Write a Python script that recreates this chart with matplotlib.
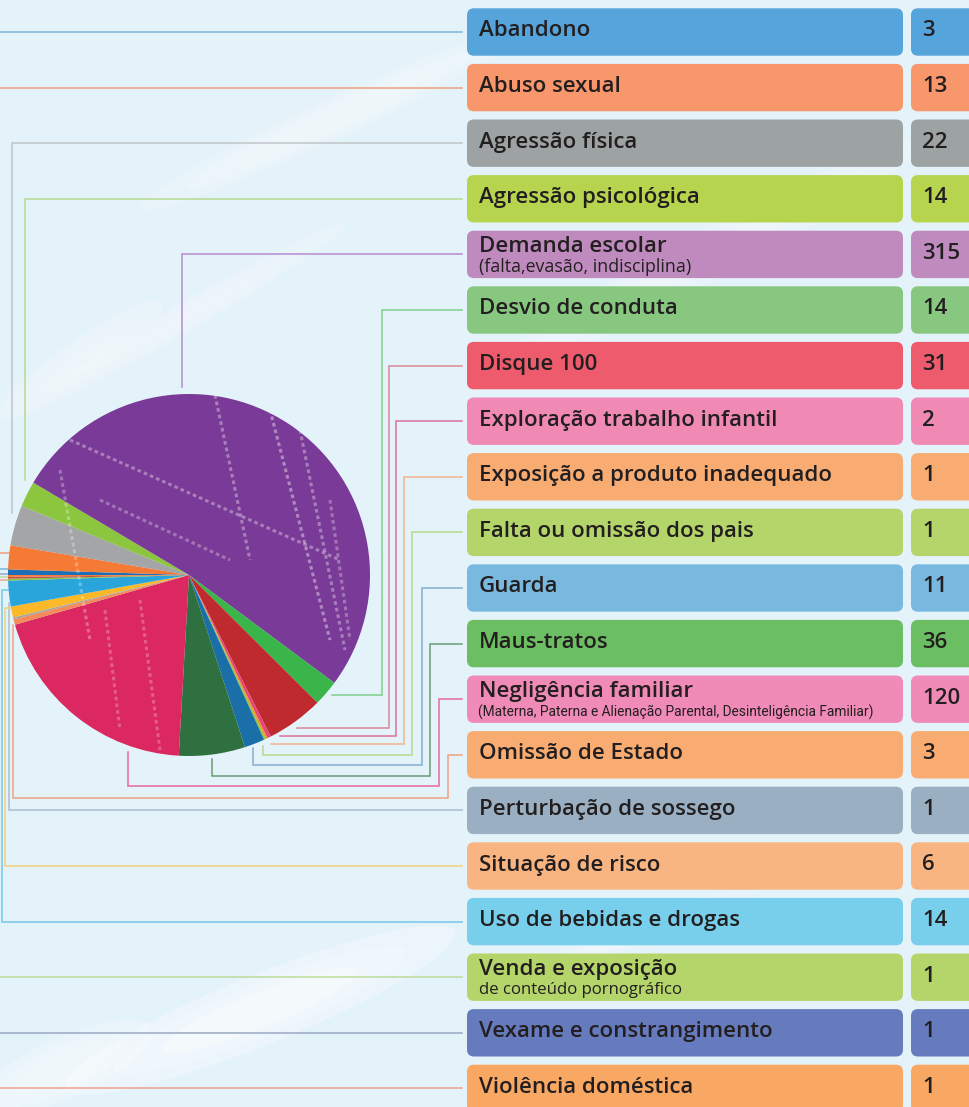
import matplotlib
matplotlib.use("Agg")
import matplotlib.pyplot as plt
from matplotlib.patches import FancyBboxPatch, Ellipse, Circle
from matplotlib import font_manager

# ---------------- data ----------------
categories = [
    "Abandono", "Abuso sexual", "Agressão física", "Agressão psicológica",
    "Demanda escolar", "Desvio de conduta", "Disque 100",
    "Exploração trabalho infantil", "Exposição a produto inadequado",
    "Falta ou omissão dos pais", "Guarda", "Maus-tratos",
    "Negligência familiar", "Omissão de Estado", "Perturbação de sossego",
    "Situação de risco", "Uso de bebidas e drogas", "Venda e exposição",
    "Vexame e constrangimento", "Violência doméstica",
]
subtitles = {
    "Demanda escolar": "(falta,evasão, indisciplina)",
    "Negligência familiar": "(Materna, Paterna e Alienação Parental, Desinteligência Familiar)",
    "Venda e exposição": "de conteúdo pornográfico",
}
values = [3, 13, 22, 14, 315, 14, 31, 2, 1, 1, 11, 36, 120, 3, 1, 6, 14, 1, 1, 1]

box_colors = ["#55a4dc", "#f7976b", "#9da2a3", "#b7d44f", "#bf8bbf", "#88c77f",
              "#ee5b6d", "#f08ab5", "#f8ac72", "#b4d56a", "#7ab9df", "#6bbf62",
              "#f08ab7", "#f8ac72", "#9ab0c2", "#f8b582", "#77cfeb", "#b4d56a",
              "#667bbd", "#f8a862"]
pie_colors = ["#1a6fb8", "#f47a35", "#a3a5a7", "#8cc63e", "#7a3a97", "#3ab54a",
              "#bf2a2e", "#e8457a", "#f7941d", "#8cc63e", "#1a6fa8", "#2f7040",
              "#db2860", "#f58a5a", "#a3a5a7", "#fbb92a", "#2aa5dc", "#8cc63e",
              "#c0504d", "#f47a35"]
line_colors = ["#7fb3da", "#f0a07a", "#c0c5c8", "#b5dc8f", "#b58cd0", "#7fcf8a",
               "#d98a95", "#e0709a", "#f3b48c", "#b7d98a", "#86aed0", "#6a9c78",
               "#e8689a", "#f0a080", "#a9bfd0", "#f2cf7a", "#74c6ea", "#bcdc9a",
               "#9aa8c4", "#f0a090"]

# ---------------- layout (image pixel coordinates) ----------------
W, H = 970, 1107
ROW0, ROWSTEP, BOXH = 32.0, 55.6, 47.4
LBL_X0, LBL_X1 = 467, 903
VAL_X0, VAL_X1 = 911, 985
PIE_C, PIE_R = (189, 575), 181

def row_y(i):
    return ROW0 + ROWSTEP * i

routes = {
    0: [(0, None)],
    1: [(0, None)],
    2: [(12, None), (12, 513)],
    3: [(25, None), (25, 480)],
    4: [(182, None), (182, 387)],
    5: [(382, None), (382, 695), (332, 695)],
    6: [(389, None), (389, 728), (297, 728)],
    7: [(396, None), (396, 736), (280, 736)],
    8: [(404, None), (404, 744), (271, 744)],
    9: [(412, None), (412, 755), (263, 755), (263, 746)],
    10: [(422, None), (422, 765), (253, 765), (253, 748)],
    11: [(430, None), (430, 776), (212, 776), (212, 759)],
    12: [(439, None), (439, 786), (128, 786), (128, 752)],
    13: [(448, None), (448, 798), (13, 798), (13, 625)],
    14: [(9, None), (9, 603)],
    15: [(5, None), (5, 608), (12, 608)],
    16: [(2, None), (2, 590), (8, 590)],
    17: [(0, None)],
    18: [(0, None)],
    19: [(0, None)],
}
stubs = {0: 569, 1: 553, 17: 577, 18: 574, 19: 580}

fig = plt.figure(figsize=(W / 100, H / 100), dpi=100)
fig.patch.set_facecolor("#e4f2fa")
ax = fig.add_axes([0, 0, 1, 1])
ax.set_facecolor("#e4f2fa")

# soft cloud streaks in the background
for (cx, cy, w, h, ang, a) in [(330, 120, 420, 40, 25, 0.3), (700, 260, 500, 50, 28, 0.25),
                               (180, 320, 380, 30, 30, 0.25), (260, 1010, 420, 70, 22, 0.45),
                               (60, 1070, 200, 60, 25, 0.35), (80, 360, 200, 40, 35, 0.25),
                               (620, 940, 300, 30, 20, 0.2)]:
    for k, s in enumerate([1.0, 0.75, 0.5]):
        ax.add_patch(Ellipse((cx, cy), w * s, h * s, angle=-ang, facecolor="white",
                             edgecolor="none", alpha=a * 0.6, zorder=0))

# pie (y axis inverted -> counterclock=True draws visually clockwise)
wedges, _ = ax.pie(values, colors=pie_colors, startangle=180, counterclock=True,
                   center=PIE_C, radius=PIE_R, wedgeprops=dict(linewidth=0),
                   frame=True)
for w in wedges:
    w.set_zorder(3)

# chalky white streaks on the pie
clip = Circle(PIE_C, PIE_R, transform=ax.transData)
for (x0, y0, x1, y1, a) in [(70, 440, 340, 560, 0.35), (100, 500, 230, 560, 0.3),
                            (215, 395, 250, 560, 0.35), (270, 410, 330, 640, 0.4),
                            (300, 430, 345, 650, 0.35), (60, 470, 90, 640, 0.3),
                            (140, 600, 160, 750, 0.25), (105, 610, 120, 730, 0.25),
                            (330, 500, 350, 640, 0.3)]:
    ln, = ax.plot([x0, x1], [y0, y1], color="white", lw=2.2, alpha=a,
                  linestyle=(0, (1.2, 1.0)), zorder=4)
    ln.set_clip_path(clip)

# leader lines
for i in range(len(categories)):
    y = row_y(i)
    pts = [(462, y)] + [(px, y if py is None else py) for px, py in routes[i]]
    xs, ys = zip(*pts)
    ax.plot(xs, ys, color=line_colors[i], lw=1.1, zorder=2,
            solid_joinstyle="miter")
    if i in stubs:
        ax.plot([0, 10], [stubs[i], stubs[i]], color=line_colors[i], lw=1.1, zorder=2)

FONT = "Open Sans"
WEIGHT = 600
MAIN = 16
TXT = "#231f20"

ax.set_xlim(0, W)
ax.set_ylim(H, 0)
ax.set_aspect("auto")
ax.axis("off")

renderer = fig.canvas.get_renderer()

def fit(t, target_px):
    bb = t.get_window_extent(renderer=renderer)
    t.set_fontsize(t.get_fontsize() * target_px / bb.width)

for i, (cat, v) in enumerate(zip(categories, values)):
    yc = row_y(i)
    for x0, x1 in [(LBL_X0, LBL_X1), (VAL_X0, VAL_X1)]:
        ax.add_patch(FancyBboxPatch((x0, yc - BOXH / 2), x1 - x0, BOXH,
                                    boxstyle="round,pad=0,rounding_size=7",
                                    facecolor=box_colors[i], edgecolor="none", zorder=5))
    if cat in subtitles:
        sub = subtitles[cat]
        ax.text(479, yc - 8, cat, fontsize=MAIN, family=FONT, fontweight=WEIGHT,
                color=TXT, va="center", ha="left", zorder=6)
        if len(sub) > 40:
            t = ax.text(478, yc + 13, sub, fontsize=10,
                        family=["Liberation Sans Narrow", "Roboto"], color=TXT,
                        va="center", ha="left", zorder=6, fontweight="normal")
            fit(t, 397)
        else:
            t = ax.text(479, yc + 13, sub, fontsize=11, family=FONT, color=TXT,
                        va="center", ha="left", zorder=6, fontweight=500)
            fit(t, 212 if i == 4 else 204)
    else:
        ax.text(479, yc - 1, cat, fontsize=MAIN, family=FONT, fontweight=WEIGHT,
                color=TXT, va="center", ha="left", zorder=6)
    ax.text(922, yc - 1, str(v), fontsize=MAIN, family=FONT, fontweight=WEIGHT,
            color=TXT, va="center", ha="left", zorder=6)

fig.savefig("out.png", dpi=100, facecolor=fig.get_facecolor())
